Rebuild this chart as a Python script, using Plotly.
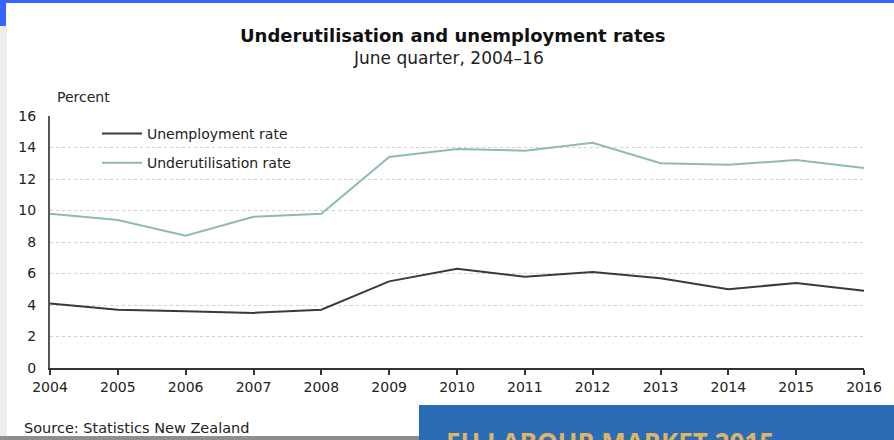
import plotly.graph_objects as go

years = list(range(2004, 2017))
unemployment = [4.1, 3.7, 3.6, 3.5, 3.7, 5.5, 6.3, 5.8, 6.1, 5.7, 5.0, 5.4, 4.9]
underutilisation = [9.8, 9.4, 8.4, 9.6, 9.8, 13.4, 13.9, 13.8, 14.3, 13.0, 12.9, 13.2, 12.7]
y_ticks = [0, 2, 4, 6, 8, 10, 12, 14, 16]

W, H = 894, 440
L, R, T, B = 50, 30, 116, 72
PW, PH = W - L - R, H - T - B

def px(x):
    return (x - L) / PW

def py(y):
    return (H - B - y) / PH

FONT = "DejaVu Sans, Liberation Sans, Arial, sans-serif"

fig = go.Figure()
fig.add_trace(go.Scatter(x=years, y=unemployment, mode="lines", name="Unemployment rate",
                         line=dict(color="#3a3a3a", width=2), legendgroup="a"))
fig.add_trace(go.Scatter(x=years, y=underutilisation, mode="lines", name="Underutilisation rate",
                         line=dict(color="#8fb9b9", width=2), legendgroup="b"))

shapes = [
    dict(type="rect", xref="paper", yref="paper", x0=px(0), x1=px(W), y0=py(0), y1=py(3),
         fillcolor="#3366ff", line=dict(width=0), layer="above"),
    dict(type="rect", xref="paper", yref="paper", x0=px(0), x1=px(6), y0=py(0), y1=py(26),
         fillcolor="#3366ff", line=dict(width=0), layer="above"),
    dict(type="rect", xref="paper", yref="paper", x0=px(0), x1=px(7), y0=py(26), y1=py(436),
         fillcolor="#eeeeee", line=dict(width=0), layer="below"),
    dict(type="rect", xref="paper", yref="paper", x0=px(0), x1=px(419), y0=py(436), y1=py(440),
         fillcolor="#8e8e8e", line=dict(width=0), layer="above"),
    dict(type="rect", xref="paper", yref="paper", x0=px(419), x1=px(W), y0=py(405), y1=py(440),
         fillcolor="#2b6cb6", line=dict(width=0), layer="above"),
]

annotations = [
    dict(text="<b>Underutilisation and unemployment rates</b>", xref="paper", yref="paper",
         x=px(452), y=py(35), xanchor="center", yanchor="middle", showarrow=False,
         font=dict(family=FONT, size=18, color="#111")),
    dict(text="June quarter, 2004\u201316", xref="paper", yref="paper",
         x=px(448), y=py(58), xanchor="center", yanchor="middle", showarrow=False,
         font=dict(family=FONT, size=17, color="#222")),
    dict(text="Percent", xref="paper", yref="paper",
         x=px(55), y=py(97), xanchor="left", yanchor="middle", showarrow=False,
         font=dict(family=FONT, size=14, color="#222")),
    dict(text="Source: Statistics New Zealand", xref="paper", yref="paper",
         x=px(22), y=py(428), xanchor="left", yanchor="middle", showarrow=False,
         font=dict(family=FONT, size=14.5, color="#222")),
    dict(text="<b>EU LABOUR MARKET 2015</b>", xref="paper", yref="paper",
         x=px(444), y=py(422), xanchor="left", yanchor="top", showarrow=False,
         font=dict(family="Open Sans, sans-serif", size=26, color="#e0b463")),
]

fig.update_layout(
    width=W, height=H,
    margin=dict(l=L, r=R, t=T, b=B, pad=0),
    paper_bgcolor="white", plot_bgcolor="white",
    font=dict(family=FONT, size=14, color="#222"),
    showlegend=True,
    legend=dict(x=px(97), y=py(118), xanchor="left", yanchor="top",
                bgcolor="rgba(0,0,0,0)", font=dict(family=FONT, size=14, color="#222"),
                traceorder="grouped", tracegroupgap=8, itemwidth=40),
    shapes=shapes,
    annotations=annotations,
    xaxis=dict(range=[2004, 2016], tickmode="array", tickvals=years,
               ticktext=[str(y) for y in years],
               showgrid=False, zeroline=False, showline=True, linecolor="#333", linewidth=1.5,
               ticks="outside", ticklen=5, tickcolor="#333", tickwidth=1.5,
               tickfont=dict(family=FONT, size=14, color="#222")),
    yaxis=dict(range=[0, 16], tickmode="array", tickvals=y_ticks,
               showgrid=True, gridcolor="#cfcfcf", griddash="dot", gridwidth=1,
               zeroline=False, showline=True, linecolor="#555", linewidth=2,
               ticks="", ticklabelstandoff=9,
               tickfont=dict(family=FONT, size=14, color="#222")),
)

fig.write_html("out.html", config={"displayModeBar": False},
               post_script="document.body.style.margin='0';")
